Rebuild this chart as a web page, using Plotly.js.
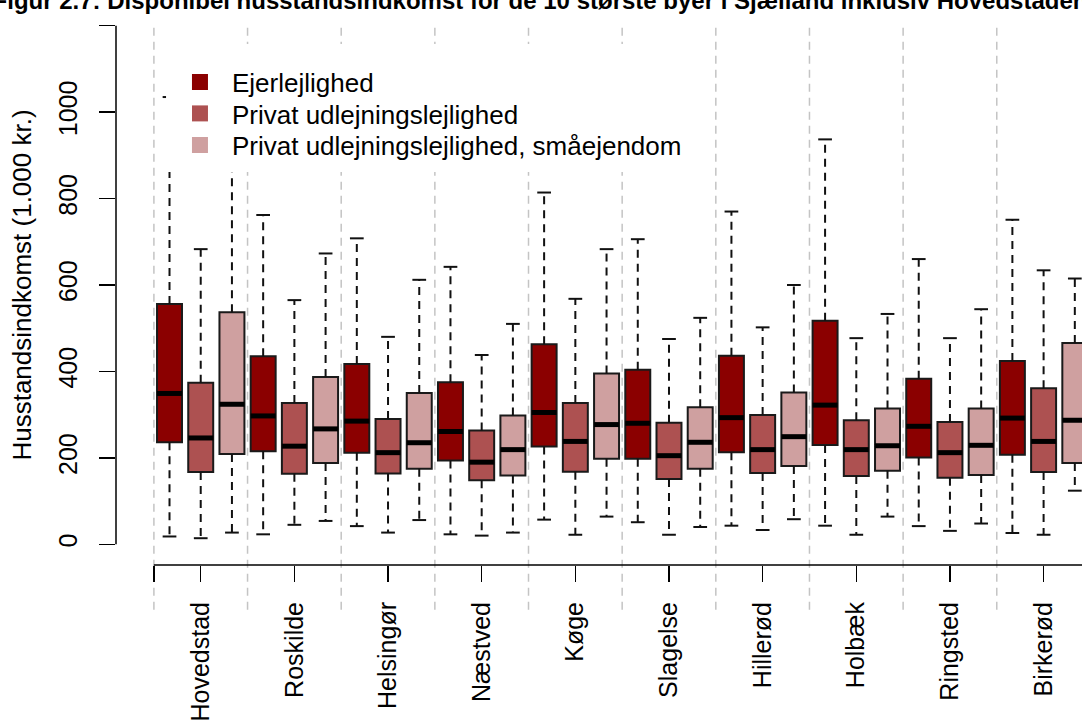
<!DOCTYPE html>
<html><head><meta charset="utf-8">
<script src="https://cdn.plot.ly/plotly-3.0.1.min.js"></script>
<style>html,body{margin:0;padding:0;background:#fff;overflow:hidden}</style>
</head><body><div id="chart" style="width:1082px;height:720px"></div>
<script>
// ---- data (1.000 kr.) ----
const cities = ['Hovedstad','Roskilde','Helsingør','Næstved','Køge','Slagelse','Hillerød','Holbæk','Ringsted','Birkerød'];
const seriesNames = ['Ejerlejlighed','Privat udlejningslejlighed','Privat udlejningslejlighed, småejendom'];
const seriesColors = ['#8B0000','#AD5151','#CFA0A0'];

const ejerLower  = [18, 23, 42, 23, 57, 51, 43, 43, 42, 26];
const ejerQ1     = [236, 215, 212, 194, 226, 198, 213, 230, 201, 207];
const ejerMedian = [349, 297, 285, 261, 305, 280, 293, 322, 273, 292];
const ejerQ3     = [556, 435, 417, 375, 463, 404, 436, 517, 383, 424];
const ejerUpper  = [1035, 762, 708, 642, 814, 706, 770, 937, 660, 751];

const privLower  = [14, 45, 27, 20, 22, 22, 33, 22, 31, 22];
const privQ1     = [167, 163, 164, 148, 168, 151, 165, 158, 154, 167];
const privMedian = [246, 227, 212, 190, 238, 205, 219, 219, 212, 238];
const privQ3     = [374, 327, 290, 263, 327, 281, 299, 287, 283, 361];
const privUpper  = [683, 565, 480, 438, 568, 475, 502, 477, 477, 634];

const smaLower   = [27, 54, 56, 27, 64, 40, 58, 64, 48, 124];
const smaQ1      = [209, 188, 175, 159, 198, 175, 181, 170, 160, 188];
const smaMedian  = [324, 267, 235, 219, 277, 236, 249, 228, 229, 287];
const smaQ3      = [537, 387, 350, 298, 395, 317, 351, 314, 314, 466];
const smaUpper   = [1000, 673, 612, 510, 683, 524, 600, 533, 544, 615];

const yTicks = [0, 200, 400, 600, 800, 1000, 1200];
const titleText = 'Figur 2.7: Disponibel husstandsindkomst for de 10 største byer i Sjælland inklusiv Hovedstaden';
const yTitle = 'Husstandsindkomst (1.000 kr.)';

// ---- build ----
const series = [
  {lower: ejerLower, q1: ejerQ1, med: ejerMedian, q3: ejerQ3, upper: ejerUpper},
  {lower: privLower, q1: privQ1, med: privMedian, q3: privQ3, upper: privUpper},
  {lower: smaLower,  q1: smaQ1,  med: smaMedian,  q3: smaQ3,  upper: smaUpper}
];
const nS = series.length;
const boxW = 0.8, capHalf = 0.22;
const FONT = 'Liberation Sans, Arial, Helvetica, sans-serif';
const yRange = [-48, 1248];
const xRange = [-0.714, 30.23];
const legendIds = ['legend', 'legend2', 'legend3'];

const traces = [];
series.forEach((s, si) => {
  const xs = cities.map((c, g) => g * nS + si + 1);
  const wx = [], wy = [], cx = [], cy = [];
  xs.forEach((x, i) => {
    wx.push(x, x, null, x, x, null);
    wy.push(s.q3[i], s.upper[i], null, s.q1[i], s.lower[i], null);
    cx.push(x - capHalf, x + capHalf, null, x - capHalf, x + capHalf, null);
    cy.push(s.upper[i], s.upper[i], null, s.lower[i], s.lower[i], null);
  });
  traces.push({type: 'scatter', mode: 'lines', x: wx, y: wy, showlegend: false, hoverinfo: 'skip',
    line: {color: '#111', width: 2, dash: '8px,6px'}});
  traces.push({type: 'scatter', mode: 'lines', x: cx, y: cy, showlegend: false, hoverinfo: 'skip',
    line: {color: '#111', width: 2}});
  traces.push({type: 'box', name: seriesNames[si], x: xs, q1: s.q1, median: s.med, q3: s.q3,
    lowerfence: s.q1, upperfence: s.q3, width: boxW, boxpoints: false, whiskerwidth: 0,
    fillcolor: seriesColors[si], line: {color: '#1a1a1a', width: 2}, showlegend: false});
  const mx = [], my = [];
  xs.forEach((x, i) => { mx.push(x - boxW / 2, x + boxW / 2, null); my.push(s.med[i], s.med[i], null); });
  traces.push({type: 'scatter', mode: 'lines', x: mx, y: my, showlegend: false, hoverinfo: 'skip',
    line: {color: '#000', width: 5}});
});
// legend entries (filled squares), one legend box per entry for exact spacing
series.forEach((s, si) => {
  traces.push({type: 'scatter', mode: 'markers', x: [null], y: [null], name: seriesNames[si],
    legend: legendIds[si], showlegend: true,
    marker: {symbol: 'square', size: 16, color: seriesColors[si], line: {width: 0}}});
});

const toPaperY = v => (v - yRange[0]) / (yRange[1] - yRange[0]);
const shapes = [];
for (let g = 0; g <= cities.length; g++) {
  const x = g * nS + 0.5;
  shapes.push({type: 'line', xref: 'x', yref: 'paper', x0: x, x1: x, y0: -0.08, y1: toPaperY(1200),
    line: {color: '#C4C4C4', width: 1.5, dash: '8px,6px'}, layer: 'below'});
}
shapes.push({type: 'line', xref: 'paper', yref: 'y', x0: 0, x1: 0, y0: yTicks[0], y1: yTicks[yTicks.length - 1],
  line: {color: '#000', width: 1.5}});
shapes.push({type: 'line', xref: 'x', yref: 'paper', x0: 0.5, x1: cities.length * nS + 0.5, y0: 0, y1: 0,
  line: {color: '#000', width: 1.5}});
shapes.push({type: 'rect', xref: 'paper', yref: 'paper', x0: 0.0518, x1: 0.6014, y0: 0.7018, y1: 0.9304,
  fillcolor: '#fff', line: {width: 0}, layer: 'above'});

// legend rows: centre at pixel rows 82, 113.5, 145 within plot area (top 5, height 560)
const legendRowsPx = [82, 113.5, 145];
const legendBase = {x: 0.0538, xanchor: 'left', yanchor: 'middle', bgcolor: 'rgba(0,0,0,0)', borderwidth: 0,
  font: {family: FONT, size: 26, color: '#000'}, itemwidth: 54, tracegroupgap: 0};

const layout = {
  width: 1082, height: 720,
  margin: {l: 116, r: 0, t: 5, b: 155, pad: 0},
  paper_bgcolor: '#fff', plot_bgcolor: '#fff',
  font: {family: FONT, color: '#000', size: 25},
  title: {text: titleText, font: {family: FONT, size: 24, weight: 'bold', color: '#000'},
    xref: 'container', yref: 'container', x: 540 / 1082, xanchor: 'center', y: 1 - 1 / 720, yanchor: 'middle'},
  boxmode: 'overlay',
  showlegend: true,
  xaxis: {range: xRange, showgrid: false, zeroline: false, showline: false,
    tickmode: 'array', tickvals: [0.5].concat(cities.map((c, g) => g * nS + 2)), ticktext: [''].concat(cities),
    ticks: 'outside', ticklen: 16, tickwidth: 1.5, tickcolor: '#000', tickangle: -90,
    tickfont: {family: FONT, size: 25, color: '#000'}, ticklabelstandoff: 10, fixedrange: true},
  yaxis: {range: yRange, showgrid: false, zeroline: false, showline: false,
    tickmode: 'array', tickvals: yTicks, ticktext: yTicks.map(String),
    ticks: 'outside', ticklen: 16, tickwidth: 1.5, tickcolor: '#000', tickangle: -90,
    tickfont: {family: FONT, size: 25, color: '#000'}, ticklabelstandoff: 12,
    title: {text: yTitle, font: {family: FONT, size: 26, color: '#000'}, standoff: 14}, automargin: false, fixedrange: true},
  shapes: shapes
};
legendIds.forEach((id, i) => {
  layout[id] = Object.assign({}, legendBase, {y: (565 - legendRowsPx[i]) / 560});
});
Plotly.newPlot('chart', traces, layout, {displayModeBar: false, staticPlot: true});
</script></body></html>
